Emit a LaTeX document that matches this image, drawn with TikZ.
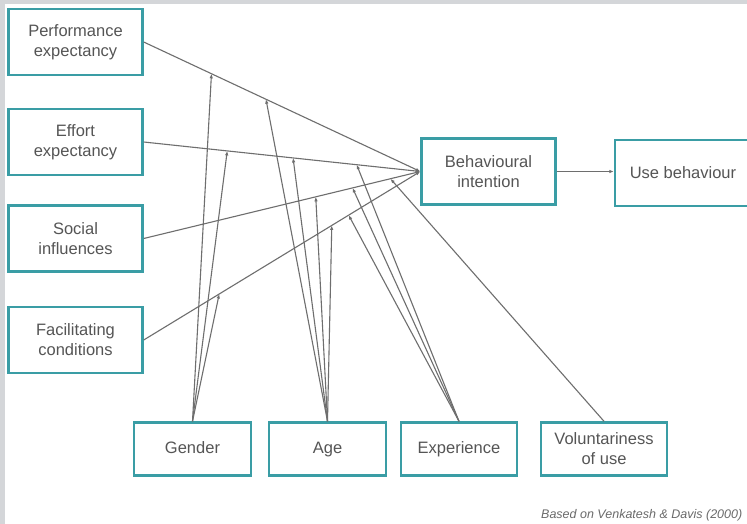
\documentclass[tikz,border=0pt]{standalone}
\usepackage{fontspec}
\setmainfont{Liberation Sans}
\usetikzlibrary{arrows.meta}
\definecolor{framegray}{HTML}{D4D6D9}
\definecolor{boxline}{HTML}{3A9DA5}
\definecolor{textgray}{HTML}{555555}
\definecolor{linkgray}{HTML}{6E6E6E}
\definecolor{notegray}{HTML}{6A6A6A}
\begin{document}
\begin{tikzpicture}[x=1pt,y=-1pt,
  box/.style={draw=boxline, line width=2.4pt, fill=white, align=center,
    text=textgray, font=\fontsize{16.5}{20}\selectfont, inner sep=0pt},
  bigbox/.style={box, minimum width=134pt, minimum height=66pt},
  modbox/.style={box, minimum height=53pt},
  link/.style={draw=linkgray, line width=1.1pt, -{Latex[length=4.5pt,width=3.5pt]}}]
\useasboundingbox (0,0) rectangle (747,524);
\clip (0,0) rectangle (747,524);
\fill[white] (0,0) rectangle (747,524);
% grey frame along the left and top edges
\fill[framegray] (0,0) rectangle (4.5,524);
\fill[framegray] (0,0) rectangle (747,4);

% determinants
\node[bigbox] (PE) at (75.5,42)  {Performance\\expectancy};
\node[bigbox] (EE) at (75.5,142) {Effort\\expectancy};
\node[bigbox] (SI) at (75.5,238.5) {Social\\influences};
\node[bigbox] (FC) at (75.5,340) {Facilitating\\conditions};

% intention and behaviour
\node[bigbox] (BI) at (488.5,171.5) {Behavioural\\intention};
\node[bigbox, minimum width=136pt] (UB) at (683,173) {Use behaviour};

% moderators
\node[modbox, minimum width=117pt] (G)  at (192.5,449) {\strut Gender};
\node[modbox, minimum width=117pt] (A)  at (327.5,449) {\strut Age};
\node[modbox, minimum width=116pt] (X)  at (459,449)   {\strut Experience};
\node[modbox, minimum width=126pt] (V)  at (604,449)   {Voluntariness\\of use};

% main paths, with the points where moderators attach
\draw[link] (PE.east) -- (BI.west)
  coordinate[pos=0.245] (gPE) coordinate[pos=0.442] (aPE);
\draw[link] (EE.east) -- (BI.west)
  coordinate[pos=0.302] (gEE) coordinate[pos=0.54] (aEE) coordinate[pos=0.77] (xEE);
\draw[link] (SI.east) -- (BI.west)
  coordinate[pos=0.622] (aSI) coordinate[pos=0.755] (xSI) coordinate[pos=0.892] (vSI);
\draw[link] (FC.east) -- (BI.west)
  coordinate[pos=0.273] (gFC) coordinate[pos=0.68] (aFC) coordinate[pos=0.741] (xFC);
\draw[link] (BI.east) -- (BI.east -| UB.west);

% moderating effects
\draw[link] (G.north) -- (gPE);
\draw[link] (G.north) -- (gEE);
\draw[link] (G.north) -- (gFC);
\draw[link] (A.north) -- (aPE);
\draw[link] (A.north) -- (aEE);
\draw[link] (A.north) -- (aSI);
\draw[link] (A.north) -- (aFC);
\draw[link] (X.north) -- (xEE);
\draw[link] (X.north) -- (xSI);
\draw[link] (X.north) -- (xFC);
\draw[link] (V.north) -- (vSI);

% source note
\node[anchor=base west, inner sep=0pt, text=notegray,
  font=\itshape\fontsize{12.5}{14}\selectfont] (src) at (541,518)
  {Based on Venkatesh \& Davis (2000)};
\end{tikzpicture}
\end{document}
